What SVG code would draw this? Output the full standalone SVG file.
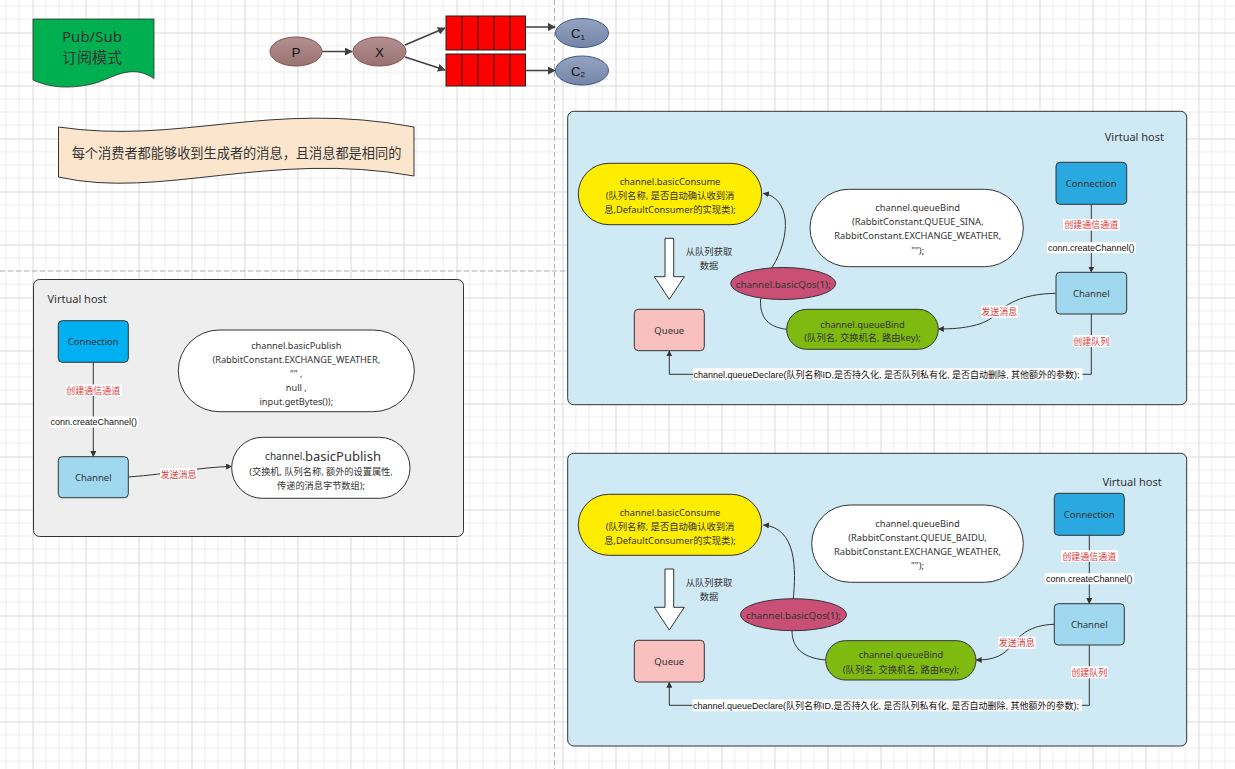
<svg xmlns="http://www.w3.org/2000/svg" width="1235" height="769" viewBox="0 0 1235 769">
<defs>
<pattern id="grid" width="53" height="53" patternUnits="userSpaceOnUse" x="32.5" y="32.5">
<path d="M13.25,0V53M26.5,0V53M39.75,0V53M0,13.25H53M0,26.5H53M0,39.75H53" stroke="#ececec" stroke-width="1" fill="none"/>
<path d="M0.5,0V53M0,0.5H53" stroke="#d9d9d9" stroke-width="1" fill="none"/>
</pattern>
<marker id="ah" viewBox="0 0 10 10" refX="9" refY="5" markerWidth="6" markerHeight="6" orient="auto" markerUnits="userSpaceOnUse">
<path d="M0,0L10,5L0,10z" fill="#333"/>
</marker>
<marker id="ah2" viewBox="0 0 10 10" refX="9" refY="5" markerWidth="8" markerHeight="8" orient="auto" markerUnits="userSpaceOnUse">
<path d="M0,0L10,5L0,10z" fill="#404040"/>
</marker>
<linearGradient id="gP" x1="0" y1="0" x2="0" y2="1"><stop offset="0" stop-color="#b39090"/><stop offset="1" stop-color="#9a7272"/></linearGradient>
<linearGradient id="gC" x1="0" y1="0" x2="0" y2="1"><stop offset="0" stop-color="#95a3c0"/><stop offset="1" stop-color="#7385a8"/></linearGradient>
</defs>
<style>
.t{font-family:"Noto Sans","Noto Sans CJK SC",sans-serif;fill:#333;}
.a{font-family:"Liberation Sans","Noto Sans CJK SC",sans-serif;fill:#111;}
.red{font-family:"Noto Sans CJK SC","Noto Sans",sans-serif;fill:#E03A3A;font-size:9px;}
.bx{stroke:#333;stroke-width:1;}
.pill{stroke:#333;stroke-width:1;}
.panel{stroke:#333;stroke-width:1;}
.lbg{fill:#fff;}
.edge{fill:none;stroke:#333;stroke-width:1;}
.qe{fill:none;stroke:#404040;stroke-width:1.5;}
.q{fill:#FF0000;stroke:#222;stroke-width:1;}
</style>
<rect width="1235" height="769" fill="#fff"/>
<rect width="1235" height="769" fill="url(#grid)"/>
<g id="guides" stroke="#b3b3b3" stroke-width="1" stroke-dasharray="5,3" fill="none">
<path d="M554.5,0V769"/>
<path d="M0,271H567"/>
</g>

<g id="title">
<path d="M33,19H154V78.5C130,62 110,80 92,84C70,89 50,88 33,80Z" fill="#00B050" stroke="#2d2d2d" stroke-width="0.8"/>
<text class="t" x="92" y="36" font-size="15" text-anchor="middle" dominant-baseline="central" fill="#222">Pub/Sub</text>
<text class="t" x="92" y="57" font-size="15" text-anchor="middle" dominant-baseline="central" fill="#222">订阅模式</text>
</g>

<g id="banner">
<path d="M58.5,127C180,145 270,100 414,127V176C270,150 160,200 58.5,177Z" fill="#FCE5CD" stroke="#333" stroke-width="1"/>
<text class="t" x="236.5" y="152.5" font-size="13.2" text-anchor="middle" dominant-baseline="central" fill="#222">每个消费者都能够收到生成者的消息，且消息都是相同的</text>
</g>

<g id="flow-edges">
<path class="qe" d="M322,51.5H352" marker-end="url(#ah2)"/>
<path class="qe" d="M405,45L445,28" marker-end="url(#ah2)"/>
<path class="qe" d="M405,57L445,70" marker-end="url(#ah2)"/>
<path class="qe" d="M525.5,27H555" marker-end="url(#ah2)"/>
<path class="qe" d="M525.5,70.5H555" marker-end="url(#ah2)"/>
</g>
<g id="P">
<ellipse cx="296" cy="51.5" rx="26" ry="14.5" fill="url(#gP)" stroke="#8a5050" stroke-width="1"/>
<text class="a" x="296" y="52" font-size="13" text-anchor="middle" dominant-baseline="central" fill="#222">P</text>
</g>
<g id="X">
<ellipse cx="379.5" cy="51.5" rx="26.5" ry="14.5" fill="url(#gP)" stroke="#8a5050" stroke-width="1"/>
<text class="a" x="379.5" y="52" font-size="13" text-anchor="middle" dominant-baseline="central" fill="#222">X</text>
</g>
<g id="queue1">
<rect class="q" x="446" y="16" width="79.5" height="34"/>
<path d="M462,16V50M478,16V50M494,16V50M510,16V50" stroke="#222" stroke-width="1"/>
</g>
<g id="queue2">
<rect class="q" x="446" y="54" width="79.5" height="32"/>
<path d="M462,54V86M478,54V86M494,54V86M510,54V86" stroke="#222" stroke-width="1"/>
</g>
<g id="C1">
<ellipse cx="582" cy="33" rx="26.5" ry="14.5" fill="url(#gC)" stroke="#3c5a8a" stroke-width="1"/>
<text class="a" x="578" y="33.5" font-size="13" text-anchor="middle" dominant-baseline="central" fill="#222">C<tspan font-size="8" dy="3">1</tspan></text>
</g>
<g id="C2">
<ellipse cx="582" cy="70.5" rx="26.5" ry="14.5" fill="url(#gC)" stroke="#3c5a8a" stroke-width="1"/>
<text class="a" x="578" y="71" font-size="13" text-anchor="middle" dominant-baseline="central" fill="#222">C<tspan font-size="8" dy="3">2</tspan></text>
</g>

<!-- Left virtual host -->
<g id="vhost-left">
<rect class="panel" x="33.5" y="279.5" width="430" height="257" rx="6" fill="#EEEEEE"/>
<text class="t" x="47.5" y="298" font-size="11" dominant-baseline="central">Virtual host</text>
</g>
<g id="left-connectors">
<path class="edge" d="M93.3,362.3V456.5" marker-end="url(#ah)"/>
<rect class="lbg" x="65" y="384.5" width="57" height="11.5"/>
<text class="red" x="93.3" y="390.3" text-anchor="middle" dominant-baseline="central">创建通信通道</text>
<rect class="lbg" x="49.3" y="416.5" width="89" height="11"/>
<text class="a" x="93.8" y="422" font-size="9" text-anchor="middle" dominant-baseline="central">conn.createChannel()</text>
<path class="edge" d="M128.3,477C170,474 200,467 231.5,466.5" marker-end="url(#ah)"/>
<rect class="lbg" x="160" y="468" width="37" height="12"/>
<text class="red" x="178.5" y="474" text-anchor="middle" dominant-baseline="central">发送消息</text>
</g>
<g id="left-connection">
<rect class="bx" x="58.3" y="320.7" width="70" height="41.6" rx="4" fill="#00B0F0"/>
<text class="t" x="93.3" y="341.7" font-size="9.5" text-anchor="middle" dominant-baseline="central">Connection</text>
</g>
<g id="left-channel">
<rect class="bx" x="58.3" y="456.7" width="70" height="41" rx="4" fill="#A0D8EF"/>
<text class="t" x="93.3" y="477" font-size="9.5" text-anchor="middle" dominant-baseline="central">Channel</text>
</g>
<g id="left-publish-code">
<rect class="pill" x="178.3" y="330" width="236" height="81.7" rx="40.8" fill="#fff"/>
<g class="t" font-size="9.2" text-anchor="middle">
<text x="296.3" y="345" dominant-baseline="central">channel.basicPublish</text>
<text x="296.3" y="359" dominant-baseline="central">(RabbitConstant.EXCHANGE_WEATHER,</text>
<text x="296.3" y="373.5" dominant-baseline="central">"" ,</text>
<text x="296.3" y="387" dominant-baseline="central">null ,</text>
<text x="296.3" y="401" dominant-baseline="central">input.getBytes());</text>
</g>
</g>
<g id="left-publish-sig">
<rect class="pill" x="231.7" y="437.3" width="178.3" height="61" rx="30.5" fill="#fff"/>
<text class="t" x="323" y="455.5" text-anchor="middle" dominant-baseline="central"><tspan font-size="10">channel.</tspan><tspan font-size="13">basicPublish</tspan></text>
<text class="t" x="321" y="471.7" font-size="9.2" text-anchor="middle" dominant-baseline="central">(交换机, 队列名称, 额外的设置属性,</text>
<text class="t" x="321" y="485" font-size="9.2" text-anchor="middle" dominant-baseline="central">传递的消息字节数组);</text>
</g>

<!-- Right top virtual host -->
<g id="vhost-top">
<rect class="panel" x="567.7" y="111.3" width="619" height="293.4" rx="6" fill="#CFEAF5"/>
<text class="t" x="1164" y="136" font-size="11" text-anchor="end" dominant-baseline="central">Virtual host</text>
</g>
<g id="top-connectors">
<path class="edge" d="M786.7,329.3C768,327 760,318 760.5,300L772,267.7C792,235 790,198 763.5,193.3" marker-end="url(#ah)"/>
<path class="edge" d="M1091.3,204.3V272" marker-end="url(#ah)"/>
<rect class="lbg" x="1063" y="219" width="57" height="11.5"/>
<text class="red" x="1091.3" y="224.7" text-anchor="middle" dominant-baseline="central">创建通信通道</text>
<rect class="lbg" x="1046.8" y="242.2" width="89" height="11"/>
<text class="a" x="1091.3" y="247.7" font-size="9" text-anchor="middle" dominant-baseline="central">conn.createChannel()</text>
<path class="edge" d="M1055.7,293.3C1020,294 1005,305 995,315C985,325 965,329 938.5,329" marker-end="url(#ah)"/>
<rect class="lbg" x="981" y="305.7" width="37" height="12"/>
<text class="red" x="999.3" y="311.7" text-anchor="middle" dominant-baseline="central">发送消息</text>
<path class="edge" d="M1091.3,314V374.3H669.3V351" marker-end="url(#ah)"/>
<rect class="lbg" x="1073" y="335" width="36.5" height="12"/>
<text class="red" x="1091.3" y="341" text-anchor="middle" dominant-baseline="central">创建队列</text>
<rect class="lbg" x="693" y="368.3" width="389.5" height="12"/>
<text class="a" x="693.5" y="374.5" font-size="9" dominant-baseline="central">channel.queueDeclare(队列名称ID,是否持久化, 是否队列私有化, 是否自动删除, 其他额外的参数);</text>
</g>
<g id="top-consume">
<rect class="pill" x="578.3" y="163.3" width="183.4" height="61.4" rx="30.7" fill="#FFED00"/>
<g class="t" font-size="9.3" text-anchor="middle">
<text x="670" y="181" dominant-baseline="central">channel.basicConsume</text>
<text x="670" y="195" dominant-baseline="central">(队列名称, 是否自动确认收到消</text>
<text x="670" y="209.3" dominant-baseline="central">息,DefaultConsumer的实现类);</text>
</g>
</g>
<g id="top-fetch-arrow">
<polygon points="665,238.3 673.7,238.3 673.7,276.7 684.3,276.7 669.3,299.3 654.3,276.7 665,276.7" fill="#fff" stroke="#333" stroke-width="1"/>
<text class="t" x="709" y="251.7" font-size="9.3" text-anchor="middle" dominant-baseline="central">从队列获取</text>
<text class="t" x="709" y="265.3" font-size="9.3" text-anchor="middle" dominant-baseline="central">数据</text>
</g>
<g id="top-queue">
<rect class="bx" x="634.3" y="309.3" width="70" height="41.4" rx="4" fill="#F8C0BF"/>
<text class="t" x="669.3" y="330" font-size="9.5" text-anchor="middle" dominant-baseline="central">Queue</text>
</g>
<g id="top-bind-code">
<rect class="pill" x="810" y="189.3" width="213.3" height="77.4" rx="38.7" fill="#fff"/>
<g class="t" font-size="9.3" text-anchor="middle">
<text x="917.7" y="207.7" dominant-baseline="central">channel.queueBind</text>
<text x="917.7" y="221.7" dominant-baseline="central">(RabbitConstant.QUEUE_SINA,</text>
<text x="917.7" y="235.7" dominant-baseline="central">RabbitConstant.EXCHANGE_WEATHER,</text>
<text x="917.7" y="250" dominant-baseline="central">"");</text>
</g>
</g>
<g id="top-qos">
<ellipse cx="783.2" cy="283.5" rx="52.5" ry="16" fill="#C94F77" stroke="#333" stroke-width="1"/>
<text class="t" x="783.2" y="284" font-size="9.8" text-anchor="middle" dominant-baseline="central" fill="#1a1a1a">channel.basicQos(1);</text>
</g>
<g id="top-bind">
<rect class="pill" x="786.7" y="309.3" width="151.6" height="40" rx="20" fill="#7FBA10"/>
<text class="t" x="862.5" y="324" font-size="9.3" text-anchor="middle" dominant-baseline="central">channel.queueBind</text>
<text class="t" x="862.5" y="337.7" font-size="9.3" text-anchor="middle" dominant-baseline="central">(队列名, 交换机名, 路由key);</text>
</g>
<g id="top-connection">
<rect class="bx" x="1056" y="162.3" width="70.7" height="42" rx="4" fill="#29A9E0"/>
<text class="t" x="1091.3" y="183.3" font-size="9.5" text-anchor="middle" dominant-baseline="central">Connection</text>
</g>
<g id="top-channel">
<rect class="bx" x="1056" y="272.3" width="70.7" height="41.7" rx="4" fill="#A0D8EF"/>
<text class="t" x="1091.3" y="293.2" font-size="9.5" text-anchor="middle" dominant-baseline="central">Channel</text>
</g>

<!-- Right bottom virtual host -->
<g id="vhost-bottom">
<rect class="panel" x="567.7" y="453.3" width="619" height="292.7" rx="6" fill="#CFEAF5"/>
<text class="t" x="1161.7" y="481" font-size="11" text-anchor="end" dominant-baseline="central">Virtual host</text>
</g>
<g id="bottom-connectors">
<path class="edge" d="M825.7,660C800,658 792,645 792,631L793.3,598.7C796,570 797,528 763.5,525" marker-end="url(#ah)"/>
<path class="edge" d="M1089.3,535.3V603.5" marker-end="url(#ah)"/>
<rect class="lbg" x="1061" y="550.3" width="57" height="11.5"/>
<text class="red" x="1089.3" y="556" text-anchor="middle" dominant-baseline="central">创建通信通道</text>
<rect class="lbg" x="1044.8" y="573.2" width="89" height="11"/>
<text class="a" x="1089.3" y="578.7" font-size="9" text-anchor="middle" dominant-baseline="central">conn.createChannel()</text>
<path class="edge" d="M1054.3,624.3C1030,625 1020,635 1012,645C1004,655 995,660 976.3,660" marker-end="url(#ah)"/>
<rect class="lbg" x="998.5" y="636.7" width="37" height="12"/>
<text class="red" x="1016.7" y="642.7" text-anchor="middle" dominant-baseline="central">发送消息</text>
<path class="edge" d="M1089.3,645V705.3H669.3V682.3" marker-end="url(#ah)"/>
<rect class="lbg" x="1071" y="666.3" width="36.5" height="12"/>
<text class="red" x="1089.3" y="672.3" text-anchor="middle" dominant-baseline="central">创建队列</text>
<rect class="lbg" x="692.5" y="699.3" width="389.5" height="12"/>
<text class="a" x="693" y="705.5" font-size="9" dominant-baseline="central">channel.queueDeclare(队列名称ID,是否持久化, 是否队列私有化, 是否自动删除, 其他额外的参数);</text>
</g>
<g id="bottom-consume">
<rect class="pill" x="578.3" y="494.3" width="183.4" height="61" rx="30.5" fill="#FFED00"/>
<g class="t" font-size="9.3" text-anchor="middle">
<text x="670" y="512" dominant-baseline="central">channel.basicConsume</text>
<text x="670" y="526" dominant-baseline="central">(队列名称, 是否自动确认收到消</text>
<text x="670" y="540" dominant-baseline="central">息,DefaultConsumer的实现类);</text>
</g>
</g>
<g id="bottom-fetch-arrow">
<polygon points="665,569 673.7,569 673.7,607.3 684.3,607.3 669.3,630 654.3,607.3 665,607.3" fill="#fff" stroke="#333" stroke-width="1"/>
<text class="t" x="709" y="582.7" font-size="9.3" text-anchor="middle" dominant-baseline="central">从队列获取</text>
<text class="t" x="709" y="596" font-size="9.3" text-anchor="middle" dominant-baseline="central">数据</text>
</g>
<g id="bottom-queue">
<rect class="bx" x="634.3" y="640.3" width="70" height="41.7" rx="4" fill="#F8C0BF"/>
<text class="t" x="669.3" y="661" font-size="9.5" text-anchor="middle" dominant-baseline="central">Queue</text>
</g>
<g id="bottom-bind-code">
<rect class="pill" x="811.7" y="505" width="211.6" height="77.3" rx="38.6" fill="#fff"/>
<g class="t" font-size="9.3" text-anchor="middle">
<text x="917.5" y="523.3" dominant-baseline="central">channel.queueBind</text>
<text x="917.5" y="537.3" dominant-baseline="central">(RabbitConstant.QUEUE_BAIDU,</text>
<text x="917.5" y="551.7" dominant-baseline="central">RabbitConstant.EXCHANGE_WEATHER,</text>
<text x="917.5" y="565.7" dominant-baseline="central">"");</text>
</g>
</g>
<g id="bottom-qos">
<ellipse cx="793.5" cy="614.7" rx="53" ry="16" fill="#C94F77" stroke="#333" stroke-width="1"/>
<text class="t" x="793.5" y="615.2" font-size="9.8" text-anchor="middle" dominant-baseline="central" fill="#1a1a1a">channel.basicQos(1);</text>
</g>
<g id="bottom-bind">
<rect class="pill" x="825.7" y="640.7" width="150.3" height="39.3" rx="19.6" fill="#7FBA10"/>
<text class="t" x="901" y="654.3" font-size="9.3" text-anchor="middle" dominant-baseline="central">channel.queueBind</text>
<text class="t" x="901" y="669" font-size="9.3" text-anchor="middle" dominant-baseline="central">(队列名, 交换机名, 路由key);</text>
</g>
<g id="bottom-connection">
<rect class="bx" x="1054.3" y="493.3" width="70" height="42" rx="4" fill="#29A9E0"/>
<text class="t" x="1089.3" y="514.3" font-size="9.5" text-anchor="middle" dominant-baseline="central">Connection</text>
</g>
<g id="bottom-channel">
<rect class="bx" x="1054.3" y="603.7" width="70" height="41.3" rx="4" fill="#A0D8EF"/>
<text class="t" x="1089.3" y="624.3" font-size="9.5" text-anchor="middle" dominant-baseline="central">Channel</text>
</g>
</svg>
